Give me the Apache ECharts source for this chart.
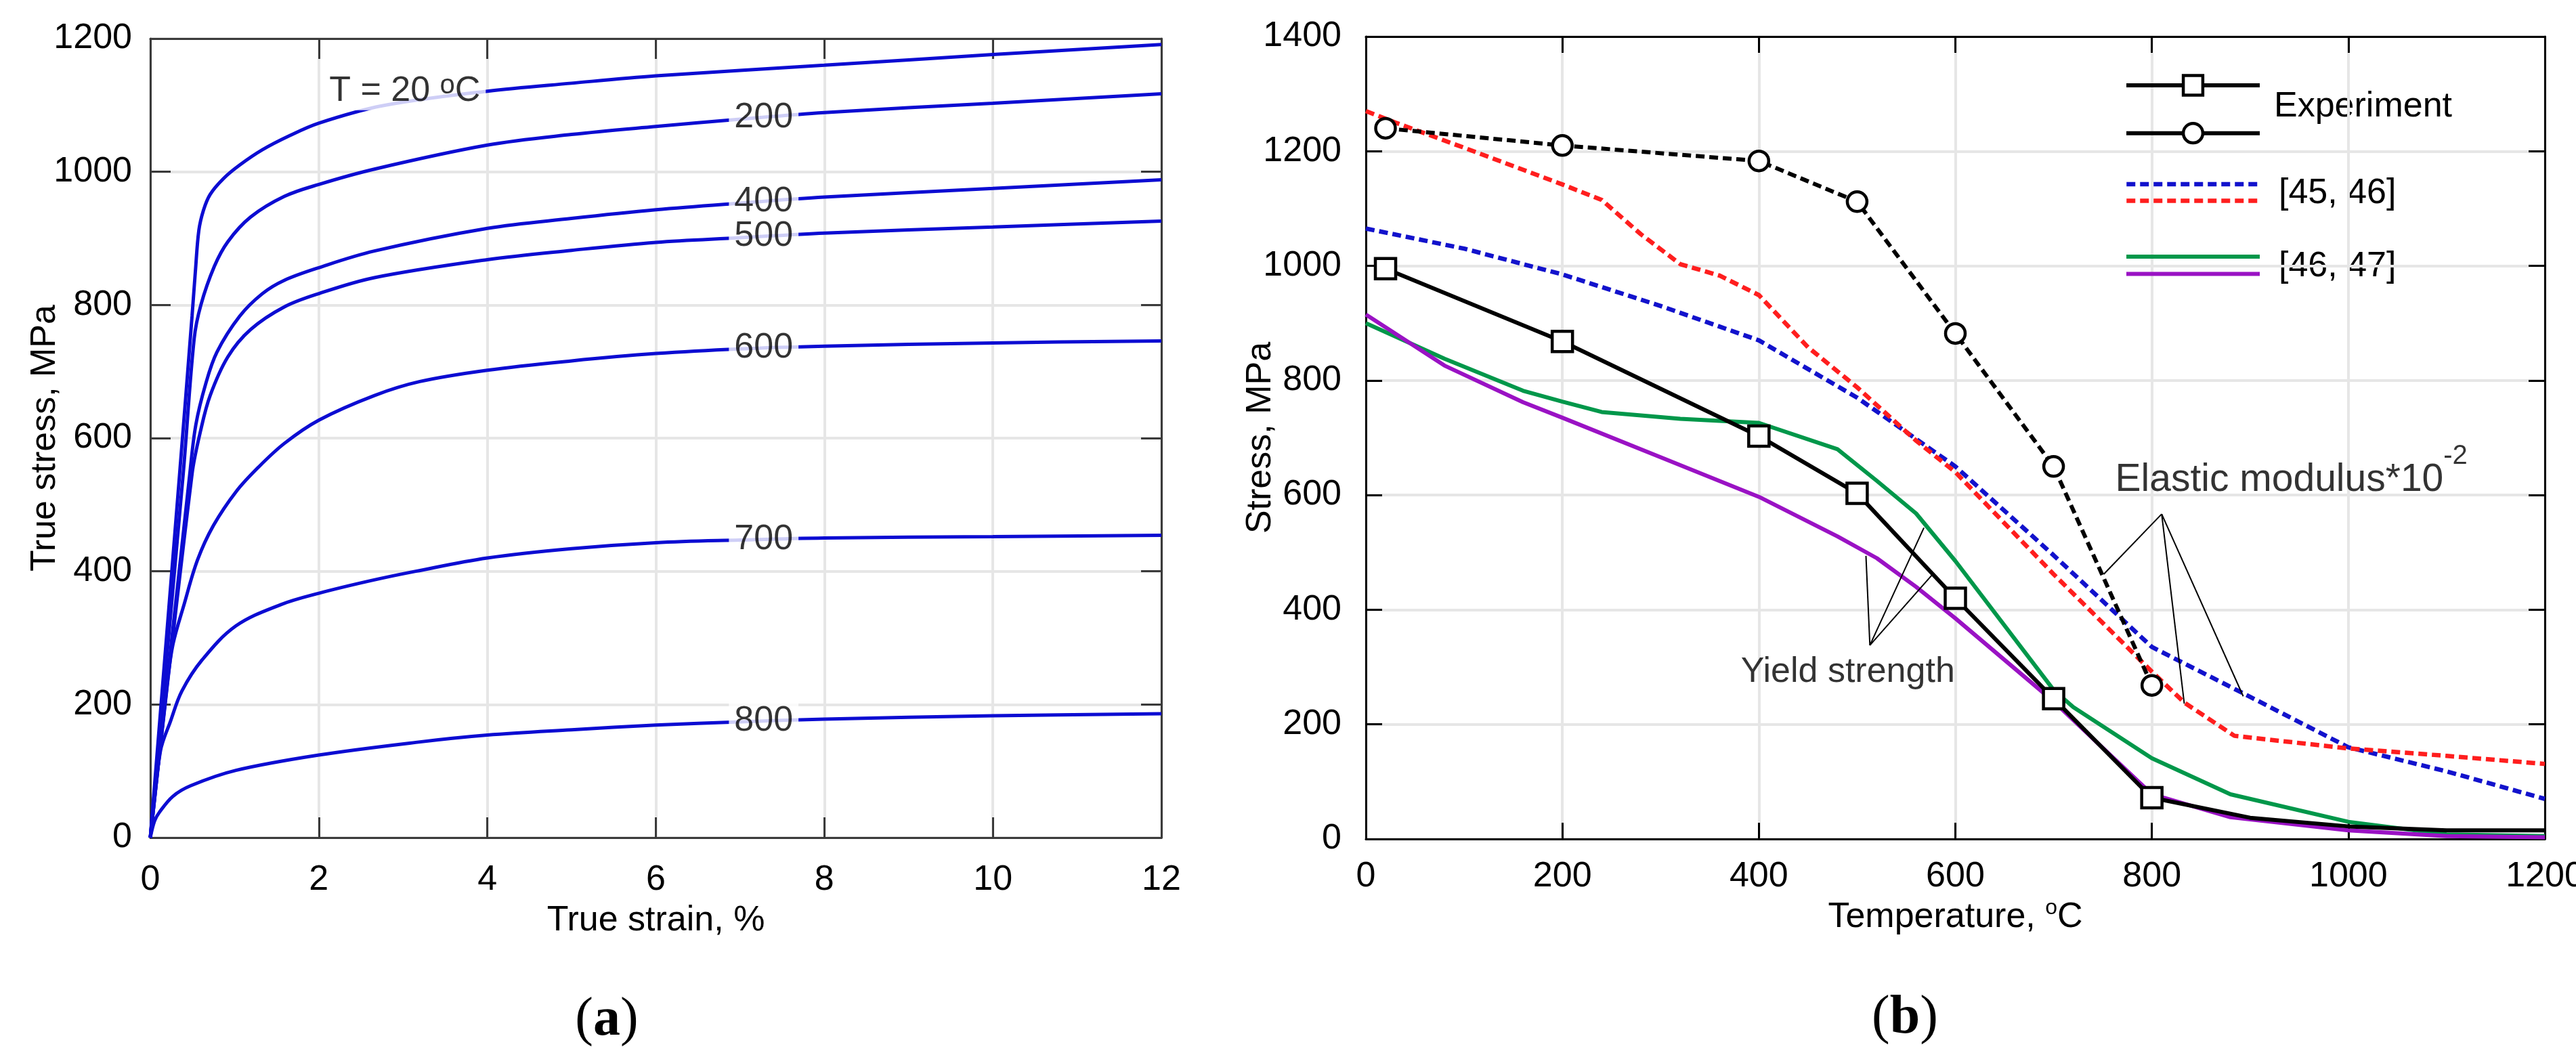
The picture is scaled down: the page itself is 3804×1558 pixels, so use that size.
<!DOCTYPE html>
<html>
<head>
<meta charset="utf-8">
<title>True stress–strain curves and temperature dependence of properties</title>
<script src="https://cdn.jsdelivr.net/npm/echarts@6.0.0/dist/echarts.min.js"></script>
<style>
html, body { margin: 0; padding: 0; background: #ffffff; }
#chart { width: 3804px; height: 1558px; }
</style>
</head>
<body>
<div id="chart"></div>
<script>
// ================= Panel (a): true stress vs true strain =================
const strainTicks  = [0, 2, 4, 6, 8, 10, 12];
const stressTicksA = [0, 200, 400, 600, 800, 1000, 1200];
const curveLabels  = ['T = 20 °C', '200', '400', '500', '600', '700', '800'];

const strainT20  = [0, 0.35, 0.495, 0.535, 0.576, 0.63, 0.71, 0.87, 1.06, 1.33, 1.65, 2, 2.75, 4, 5, 6, 8, 10, 12];
const stressT20  = [0, 550, 783, 851, 912, 942, 966, 990, 1010, 1033, 1054, 1073, 1099, 1121, 1133, 1144, 1160, 1176, 1191];

const strainT200 = [0, 0.39, 0.52, 0.6, 0.76, 0.92, 1.19, 1.59, 2, 2.66, 4, 5, 6, 7, 8, 10, 12];
const stressT200 = [0, 546, 749, 800, 858, 895, 932, 963, 981, 1004, 1040, 1056, 1068, 1079, 1089, 1103, 1117];

const strainT400 = [0, 0.468, 0.54, 0.656, 0.79, 1.06, 1.33, 1.59, 2, 2.66, 4, 5, 6, 7, 8, 10, 12];
const stressT400 = [0, 546, 620, 681, 729, 783, 817, 837, 856, 881, 915, 930, 943, 953, 962, 975, 988];

const strainT500 = [0, 0.495, 0.6, 0.71, 0.92, 1.19, 1.59, 2, 2.66, 4, 5, 6, 7, 8, 10, 12];
const stressT500 = [0, 546, 613, 664, 722, 763, 797, 817, 841, 868, 882, 894, 901, 908, 917, 926];

const strainT600 = [0, 0.2, 0.27, 0.4, 0.56, 0.75, 1.02, 1.28, 1.59, 2, 2.66, 3.2, 4, 5, 6, 7, 8, 10, 12];
const stressT600 = [0, 230, 291, 350, 417, 469, 520, 556, 592, 627, 664, 685, 702, 716, 727, 734, 738, 743, 746];

const strainT700 = [0, 0.12, 0.24, 0.374, 0.615, 1.016, 1.55, 2, 2.62, 3.15, 4, 5, 6, 7, 8, 10, 12];
const stressT700 = [0, 130, 175, 220, 267, 318, 350, 367, 386, 400, 420, 434, 443, 447, 450, 452, 454];

const strainT800 = [0, 0.05, 0.107, 0.267, 0.48, 1.016, 2, 3.15, 4, 5, 6, 7, 8, 10, 12];
const stressT800 = [0, 25, 38, 62, 78, 101, 124, 143, 154, 162, 169, 174, 178, 183, 186];

// ================= Panel (b): stress vs temperature =================
const tempTicks    = [0, 200, 400, 600, 800, 1000, 1200];
const stressTicksB = [0, 200, 400, 600, 800, 1000, 1200, 1400];

// Experiment – yield strength (squares), with unmarked continuation
const expYieldTemp     = [20, 200, 400, 500, 600, 700, 800];
const expYieldStress   = [995, 868, 703, 603, 420, 245, 72];
const expYieldTailTemp = [800, 900, 1000, 1100, 1200];
const expYieldTail     = [72, 37, 22, 15, 15];

// Experiment – elastic modulus*10^-2 (circles)
const expModTemp   = [20, 200, 400, 500, 600, 700, 800];
const expModStress = [1240, 1210, 1183, 1112, 882, 650, 268];

// [45, 46] – elastic modulus (blue dashed, red dashed)
const ref4546BlueTemp = [0, 100, 200, 300, 400, 500, 600, 700, 800, 900, 1000, 1100, 1200];
const ref4546Blue     = [1065, 1030, 985, 930, 870, 770, 650, 495, 335, 248, 160, 118, 70];
const ref4546RedTemp  = [0, 30, 100, 200, 240, 280, 320, 360, 400, 450, 500, 560, 600, 700, 800, 833, 884, 1000, 1100, 1200];
const ref4546Red      = [1270, 1250, 1206, 1142, 1115, 1055, 1003, 983, 949, 858, 788, 695, 640, 462, 292, 238, 180, 158, 145, 131];

// [46, 47] – yield strength (green, purple)
const ref4647GreenTemp  = [0, 80, 160, 200, 240, 320, 400, 480, 520, 560, 600, 700, 720, 800, 880, 1000, 1100, 1200];
const ref4647Green      = [900, 838, 782, 763, 745, 733, 726, 680, 625, 568, 485, 260, 230, 141, 78, 30, 8, 5];
const ref4647PurpleTemp = [0, 80, 160, 200, 300, 400, 480, 520, 560, 600, 700, 800, 880, 1000, 1100, 1200];
const ref4647Purple     = [915, 826, 762, 735, 666, 597, 528, 490, 440, 385, 240, 78, 38, 15, 5, 3];

// Annotations (data coordinates: temperature, stress)
const yieldNoteAnchor  = [381, 291];
const yieldPointerApex = [513, 338];
const yieldPointerEnds = [[509, 494], [568, 543], [577, 462]];
const modNoteAnchor    = [762, 626];
const modPointerApex   = [810, 567];
const modPointerEnds   = [[751, 462], [833, 236], [893, 249]];

// ================= helpers =================
const pairs = (xs, ys) => xs.map((x, i) => [x, ys[i]]);
const interp = (xs, ys, x) => {
  for (let i = 1; i < xs.length; i++) {
    if (x <= xs[i]) {
      const t = (x - xs[i - 1]) / (xs[i] - xs[i - 1]);
      return ys[i - 1] + t * (ys[i] - ys[i - 1]);
    }
  }
  return ys[ys.length - 1];
};
const first = a => a[0];
const last = a => a[a.length - 1];
const step = a => a[1] - a[0];

const FONT  = '"Liberation Sans", Arial, Helvetica, sans-serif';
const SERIF = '"Liberation Serif", "DejaVu Serif", "Times New Roman", serif';
const AXIS_A = '#3a3a3a';
const AXIS_B = '#000000';
const GRID_C = '#e6e6e6';
const CURVE_BLUE = '#0c0cd2';

const curvesA = [
  [strainT20, stressT20], [strainT200, stressT200], [strainT400, stressT400],
  [strainT500, stressT500], [strainT600, stressT600], [strainT700, stressT700],
  [strainT800, stressT800]
];

const chart = echarts.init(document.getElementById('chart'), null, { renderer: 'canvas' });

function axis(opts) {
  const color = opts.color;
  return {
    gridIndex: opts.grid,
    type: 'value',
    position: opts.position,
    min: first(opts.ticks),
    max: last(opts.ticks),
    interval: step(opts.ticks),
    axisLine: { show: true, onZero: false, lineStyle: { color: color, width: 3 } },
    axisTick: { show: true, inside: true, length: opts.tickLen, lineStyle: { color: color, width: 3 } },
    axisLabel: opts.labels ? {
      show: true, margin: opts.margin, color: '#000', fontSize: 52, fontFamily: FONT, lineHeight: 52,
      formatter: v => String(v)
    } : { show: false },
    splitLine: { show: !!opts.split, lineStyle: { color: GRID_C, width: 4 } },
    name: opts.name || '',
    nameLocation: 'middle',
    nameGap: opts.nameGap || 0,
    nameMoveOverlap: false,
    nameTextStyle: {
      color: '#000', fontSize: 52, fontFamily: FONT, lineHeight: 60,
      rich: {
        n: { color: '#000', fontSize: 52, fontFamily: FONT, lineHeight: 60 },
        s: { color: '#000', fontSize: 32, fontFamily: FONT, lineHeight: 34, verticalAlign: 'top' }
      }
    },
    silent: true
  };
}

// ---- series for panel (a)
const seriesA = curvesA.map((c, i) => ({
  name: 'T' + curveLabels[i],
  type: 'line',
  xAxisIndex: 0, yAxisIndex: 0,
  data: pairs(c[0], c[1]),
  symbol: 'none', showSymbol: false,
  smooth: 0.35,
  lineStyle: { color: CURVE_BLUE, width: 5 },
  silent: true, z: 3
}));

const labelStrainMain = 7.28;
const labelStrainRoom = 3.02;
const labelData = curvesA.map((c, i) => {
  const x = i === 0 ? labelStrainRoom : labelStrainMain;
  return { value: [x, interp(c[0], c[1], x)] };
});

seriesA.push({
  type: 'scatter',
  xAxisIndex: 0, yAxisIndex: 0,
  data: labelData,
  symbol: 'circle', symbolSize: 2,
  itemStyle: { color: 'rgba(0,0,0,0)' },
  silent: true, z: 6,
  label: {
    show: true,
    position: 'inside',
    formatter: p => p.dataIndex === 0 ? '{m|T = 20 }{s|o}{m|C}' : '{m|' + curveLabels[p.dataIndex] + '}',
    backgroundColor: '#ffffff',
    padding: [0, 8],
    color: '#000',
    rich: {
      m: { fontSize: 52, fontFamily: FONT, color: '#000', lineHeight: 56 },
      s: { fontSize: 40, fontFamily: FONT, color: '#000', lineHeight: 40, verticalAlign: 'top' }
    }
  },
  labelLayout: p => p.dataIndex === 0 ? { dy: -17 } : {}
});

// ---- series for panel (b)
const NAME_EXP_Y = 'Experiment — yield strength';
const NAME_EXP_E = 'Experiment — elastic modulus*10^-2';
const NAME_BLUE  = '[45, 46] — elastic modulus (a)';
const NAME_RED   = '[45, 46] — elastic modulus (b)';
const NAME_GREEN = '[46, 47] — yield strength (a)';
const NAME_PURP  = '[46, 47] — yield strength (b)';

const markerStyle = { color: '#ffffff', borderColor: '#000000', borderWidth: 4.5 };

const seriesB = [
  {
    name: NAME_BLUE, type: 'line', xAxisIndex: 2, yAxisIndex: 2,
    data: pairs(ref4546BlueTemp, ref4546Blue), symbol: 'none', showSymbol: false,
    lineStyle: { color: '#1212cc', width: 6.5, type: [13, 7] }, z: 3, silent: true
  },
  {
    name: NAME_RED, type: 'line', xAxisIndex: 2, yAxisIndex: 2,
    data: pairs(ref4546RedTemp, ref4546Red), symbol: 'none', showSymbol: false,
    lineStyle: { color: '#ff1e1e', width: 6.5, type: [13, 7] }, z: 3, silent: true
  },
  {
    name: NAME_GREEN, type: 'line', xAxisIndex: 2, yAxisIndex: 2,
    data: pairs(ref4647GreenTemp, ref4647Green), symbol: 'none', showSymbol: false,
    lineStyle: { color: '#00974a', width: 6 }, z: 3, silent: true
  },
  {
    name: NAME_PURP, type: 'line', xAxisIndex: 2, yAxisIndex: 2,
    data: pairs(ref4647PurpleTemp, ref4647Purple), symbol: 'none', showSymbol: false,
    lineStyle: { color: '#9a12c4', width: 6 }, z: 3, silent: true
  },
  {
    name: 'Experiment — yield strength (continued)', type: 'line', xAxisIndex: 2, yAxisIndex: 2,
    data: pairs(expYieldTailTemp, expYieldTail), symbol: 'none', showSymbol: false,
    lineStyle: { color: '#000', width: 6 }, z: 4, silent: true
  },
  {
    name: NAME_EXP_Y, type: 'line', xAxisIndex: 2, yAxisIndex: 2,
    data: pairs(expYieldTemp, expYieldStress), symbol: 'rect', symbolSize: 30, showSymbol: true,
    itemStyle: markerStyle,
    lineStyle: { color: '#000', width: 6 }, z: 5, silent: true
  },
  {
    name: NAME_EXP_E, type: 'line', xAxisIndex: 2, yAxisIndex: 2,
    data: pairs(expModTemp, expModStress), symbol: 'circle', symbolSize: 29, showSymbol: true,
    itemStyle: markerStyle,
    lineStyle: { color: '#000', width: 6, type: [13, 7] }, z: 5, silent: true
  },
  // annotation texts + pointer lines
  {
    type: 'scatter', xAxisIndex: 2, yAxisIndex: 2,
    data: [{ value: yieldNoteAnchor }, { value: modNoteAnchor }],
    symbol: 'circle', symbolSize: 2, itemStyle: { color: 'rgba(0,0,0,0)' },
    silent: true, z: 7,
    label: {
      show: true, position: 'right', distance: 0, color: '#000',
      formatter: p => p.dataIndex === 0 ? '{y|Yield strength}' : '{m|Elastic modulus*10}{s|-2}',
      rich: {
        y: { fontSize: 52, fontFamily: FONT, color: '#000', lineHeight: 60 },
        m: { fontSize: 57, fontFamily: FONT, color: '#000', lineHeight: 110 },
        s: { fontSize: 40, fontFamily: FONT, color: '#000', lineHeight: 44, verticalAlign: 'top' }
      }
    },
    markLine: {
      silent: true, animation: false,
      symbol: ['none', 'none'],
      label: { show: false },
      emphasis: { disabled: true },
      lineStyle: { color: '#000', width: 2, type: 'solid' },
      data: yieldPointerEnds.map(e => [{ coord: yieldPointerApex }, { coord: e }])
        .concat(modPointerEnds.map(e => [{ coord: modPointerApex }, { coord: e }]))
    }
  }
];

const legendBase = {
  orient: 'vertical', left: 3137, padding: 0, selectedMode: false,
  itemWidth: 197, formatter: () => '', textStyle: { fontSize: 10 }
};

const option = {
  animation: false,
  backgroundColor: '#ffffff',
  grid: [
    { left: 222, top: 57, width: 1493, height: 1180, containLabel: false, outerBoundsMode: 'none' },
    { left: 2017, top: 54, width: 1741, height: 1185, containLabel: false, outerBoundsMode: 'none' }
  ],
  xAxis: [
    axis({ grid: 0, position: 'bottom', ticks: strainTicks, color: AXIS_A, tickLen: 30, labels: true, margin: 37, split: true,
           name: 'True strain, %', nameGap: 93 }),
    axis({ grid: 0, position: 'top', ticks: strainTicks, color: AXIS_A, tickLen: 30 }),
    axis({ grid: 1, position: 'bottom', ticks: tempTicks, color: AXIS_B, tickLen: 24, labels: true, margin: 30, split: true,
           name: '{n|Temperature, }{s|o}{n|C}', nameGap: 86 }),
    axis({ grid: 1, position: 'top', ticks: tempTicks, color: AXIS_B, tickLen: 24 })
  ],
  yAxis: [
    axis({ grid: 0, position: 'left', ticks: stressTicksA, color: AXIS_A, tickLen: 30, labels: true, margin: 27, split: true,
           name: 'True stress, MPa', nameGap: 125 }),
    axis({ grid: 0, position: 'right', ticks: stressTicksA, color: AXIS_A, tickLen: 30 }),
    axis({ grid: 1, position: 'left', ticks: stressTicksB, color: AXIS_B, tickLen: 24, labels: true, margin: 36, split: true,
           name: 'Stress, MPa', nameGap: 125 }),
    axis({ grid: 1, position: 'right', ticks: stressTicksB, color: AXIS_B, tickLen: 24 })
  ],
  legend: [
    Object.assign({}, legendBase, {
      data: [NAME_EXP_Y, NAME_EXP_E], top: 108, itemHeight: 36, itemGap: 36,
      lineStyle: { width: 6, type: 'solid', color: '#000' },
      itemStyle: { color: '#ffffff', borderColor: '#000000', borderWidth: 4.5 }
    }),
    Object.assign({}, legendBase, {
      data: [NAME_BLUE, NAME_RED], top: 265, itemHeight: 14, itemGap: 12,
      lineStyle: { width: 6.5 },
      itemStyle: { opacity: 0, color: 'rgba(0,0,0,0)', borderWidth: 0 }
    }),
    Object.assign({}, legendBase, {
      data: [NAME_GREEN, NAME_PURP], top: 372, itemHeight: 14, itemGap: 13,
      lineStyle: { width: 6 },
      itemStyle: { opacity: 0, color: 'rgba(0,0,0,0)', borderWidth: 0 }
    })
  ],
  graphic: [
    { type: 'text', x: 3358, y: 158, silent: true,
      style: { text: 'Experiment', fontSize: 52, fontFamily: FONT, fill: '#000', align: 'left', verticalAlign: 'middle' } },
    { type: 'text', x: 3365, y: 286, silent: true,
      style: { text: '[45, 46]', fontSize: 52, fontFamily: FONT, fill: '#000', align: 'left', verticalAlign: 'middle' } },
    { type: 'text', x: 3365, y: 394, silent: true,
      style: { text: '[46, 47]', fontSize: 52, fontFamily: FONT, fill: '#000', align: 'left', verticalAlign: 'middle' } },
    { type: 'text', x: 896, y: 1507, silent: true,
      style: { text: '{p|(}{b|a}{p|)}', align: 'center', verticalAlign: 'middle', fill: '#000',
               rich: { p: { fontSize: 80, fontFamily: SERIF, fill: '#000' },
                       b: { fontSize: 80, fontFamily: SERIF, fontWeight: 'bold', fill: '#000' } } } },
    { type: 'text', x: 2813, y: 1504, silent: true,
      style: { text: '{p|(}{b|b}{p|)}', align: 'center', verticalAlign: 'middle', fill: '#000',
               rich: { p: { fontSize: 80, fontFamily: SERIF, fill: '#000' },
                       b: { fontSize: 80, fontFamily: SERIF, fontWeight: 'bold', fill: '#000' } } } }
  ],
  series: seriesA.concat(seriesB)
};

chart.setOption(option);
</script>
</body>
</html>
